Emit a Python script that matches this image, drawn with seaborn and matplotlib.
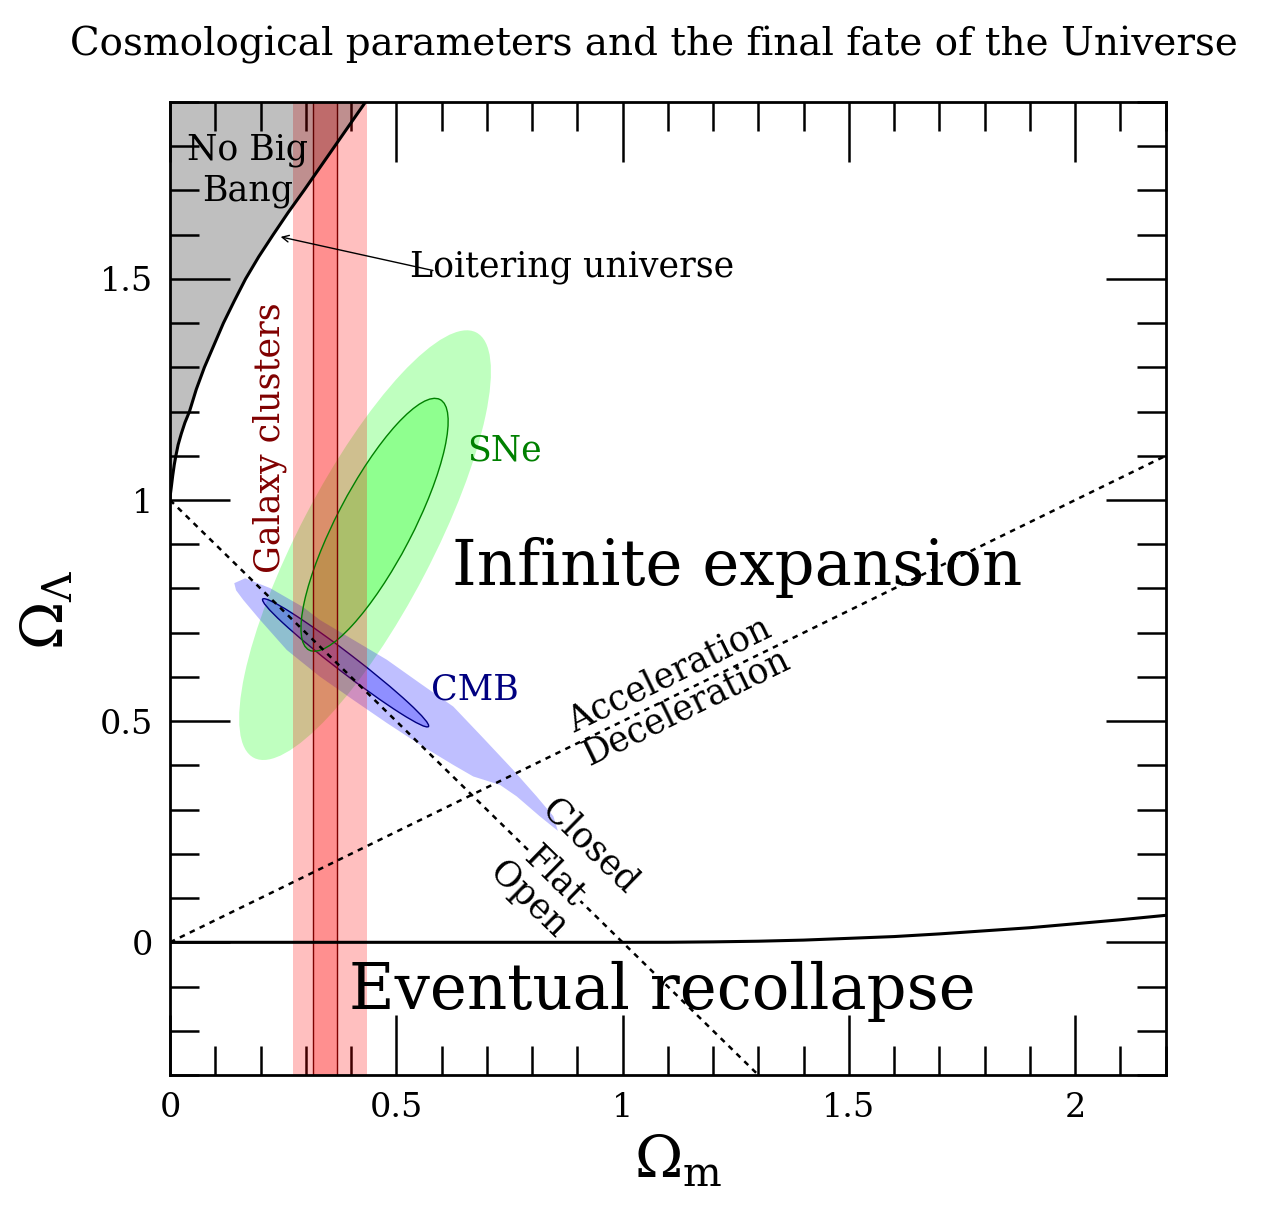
import matplotlib
matplotlib.use("Agg")
import matplotlib.pyplot as plt
from matplotlib.patches import Ellipse, Polygon
from matplotlib.ticker import MultipleLocator, FuncFormatter
import seaborn as sns

# boundary of the "no big bang" region (loitering curve)
nbb_ol = [1.0, 1.01, 1.03, 1.055, 1.08, 1.10, 1.125, 1.15, 1.175, 1.20, 1.25, 1.30,
          1.35, 1.40, 1.45, 1.50, 1.55, 1.60, 1.65, 1.70, 1.75, 1.80, 1.85, 1.90]
nbb_om = [0.0, 0.0005, 0.003, 0.006, 0.0095, 0.013, 0.018, 0.025, 0.033, 0.043, 0.058, 0.076,
          0.097, 0.118, 0.142, 0.167, 0.196, 0.228, 0.261, 0.296, 0.330, 0.364, 0.398, 0.432]

# boundary between infinite expansion and recollapse
rec_om = [0.0, 0.5, 1.0, 1.1, 1.2, 1.3, 1.4, 1.5, 1.6, 1.7, 1.8, 1.9, 2.0, 2.1, 2.2]
rec_ol = [0.0, 0.0, 0.0, 0.0001, 0.001, 0.0025, 0.005, 0.009, 0.013, 0.019, 0.026,
          0.033, 0.042, 0.051, 0.061]

# flat universe and acceleration/deceleration lines
flat_om = [0.0, 1.3]
flat_ol = [1.0, -0.3]
acc_om = [0.0, 2.2]
acc_ol = [0.0, 1.1]

# galaxy cluster constraints on Omega_m
clusters_outer = [0.272, 0.435]
clusters_inner = [0.315, 0.370]

# supernova ellipses: centre x, centre y, width, height, angle
sne_outer = [0.431, 0.898, 1.08, 0.295, 63.0]
sne_inner = [0.452, 0.944, 0.636, 0.168, 63.0]

# CMB: inner ellipse and outer contour
cmb_inner = [0.388, 0.632, 0.466, 0.042, -38.2]
cmb_om = [0.142, 0.166, 0.221, 0.294, 0.331, 0.405, 0.479, 0.552, 0.626, 0.692, 0.758,
          0.810, 0.847, 0.857, 0.817, 0.766, 0.729, 0.670, 0.626, 0.552, 0.479, 0.405,
          0.331, 0.258, 0.199, 0.162, 0.146]
cmb_ol = [0.812, 0.823, 0.801, 0.758, 0.729, 0.684, 0.639, 0.586, 0.533, 0.462, 0.390,
          0.330, 0.285, 0.252, 0.285, 0.330, 0.356, 0.375, 0.401, 0.447, 0.496, 0.548,
          0.601, 0.661, 0.729, 0.774, 0.796]

sns.set_theme(style="ticks")
plt.rcParams["font.family"] = ["DejaVu Serif"]
plt.rcParams["mathtext.fontset"] = "dejavuserif"
for k in ("text.color", "axes.labelcolor", "xtick.color", "ytick.color", "axes.edgecolor"):
    plt.rcParams[k] = "black"

fig, ax = plt.subplots(figsize=(12.8, 12.14), dpi=100)
fig.subplots_adjust(left=0.1328, right=0.9107, bottom=0.1145, top=0.916)

# confidence regions
for e in (sne_outer, sne_inner):
    ax.add_patch(Ellipse((e[0], e[1]), e[2], e[3], angle=e[4],
                         facecolor=(0, 1, 0, 0.25), edgecolor="none", zorder=2))
ax.add_patch(Ellipse((sne_inner[0], sne_inner[1]), sne_inner[2], sne_inner[3],
                     angle=sne_inner[4], facecolor="none", edgecolor="#008000", lw=1.0, zorder=4))

ax.add_patch(Polygon(list(zip(cmb_om, cmb_ol)), closed=True,
                     facecolor=(0, 0, 1, 0.25), edgecolor="none", zorder=2))
ax.add_patch(Ellipse((cmb_inner[0], cmb_inner[1]), cmb_inner[2], cmb_inner[3],
                     angle=cmb_inner[4], facecolor=(0, 0, 1, 0.25), edgecolor="#000080",
                     lw=1.0, zorder=2))

ax.axvspan(clusters_outer[0], clusters_outer[1], color="red", alpha=0.25, lw=0, zorder=3)
ax.axvspan(clusters_inner[0], clusters_inner[1], color="red", alpha=0.25, lw=0, zorder=3)
for xv in clusters_inner:
    ax.axvline(xv, color="#800000", lw=1.0, zorder=4)

# no big bang region, darkening whatever lies under it
ax.fill_betweenx(nbb_ol, 0, nbb_om, color="black", alpha=0.25, lw=0, zorder=4.5)

# curves
sns.lineplot(x=nbb_om, y=nbb_ol, sort=False, estimator=None, color="black", lw=2.2, ax=ax, zorder=5)
sns.lineplot(x=rec_om, y=rec_ol, sort=False, estimator=None, color="black", lw=2.2, ax=ax, zorder=5)
sns.lineplot(x=flat_om, y=flat_ol, sort=False, estimator=None, color="black", lw=1.8,
             linestyle=(0, (2.2, 2.2)), ax=ax, zorder=5)
sns.lineplot(x=acc_om, y=acc_ol, sort=False, estimator=None, color="black", lw=1.8,
             linestyle=(0, (2.2, 2.2)), ax=ax, zorder=5)

ax.set_xlim(0, 2.2)
ax.set_ylim(-0.3, 1.9)

# labels
fs = 25
ax.text(0.172, 1.745, "No Big\nBang", ha="center", va="center", fontsize=fs, linespacing=1.25, zorder=6)
ax.annotate("", xy=(0.2445, 1.595), xytext=(0.581, 1.519),
            arrowprops=dict(arrowstyle="->", color="black", lw=1.0, shrinkA=0, shrinkB=0), zorder=6)
ax.text(0.530, 1.526, "Loitering universe", ha="left", va="center", fontsize=fs, zorder=6)
ax.text(0.221, 1.142, "Galaxy clusters", ha="center", va="center", rotation=90,
        color="#800000", fontsize=fs, zorder=6)
ax.text(0.740, 1.112, "SNe", ha="center", va="center", color="#008000", fontsize=fs, zorder=6)
ax.text(0.674, 0.571, "CMB", ha="center", va="center", color="#000080", fontsize=fs, zorder=6)
ax.text(1.252, 0.848, "Infinite expansion", ha="center", va="center", fontsize=45, zorder=6)
ax.text(1.087, -0.111, "Eventual recollapse", ha="center", va="center", fontsize=45, zorder=6)
ax.text(1.104, 0.605, "Acceleration", ha="center", va="center", rotation=26, fontsize=fs, zorder=6)
ax.text(1.141, 0.533, "Deceleration", ha="center", va="center", rotation=26, fontsize=fs, zorder=6)
ax.text(0.928, 0.217, "Closed", ha="center", va="center", rotation=-44.4, fontsize=fs, zorder=6)
ax.text(0.850, 0.149, "Flat", ha="center", va="center", rotation=-44.4, fontsize=fs, zorder=6,
        bbox=dict(facecolor="white", edgecolor="none", pad=0.5))
ax.text(0.791, 0.096, "Open", ha="center", va="center", rotation=-44.4, fontsize=fs, zorder=6)

# axes and ticks
ax.xaxis.set_major_locator(MultipleLocator(0.5))
ax.xaxis.set_minor_locator(MultipleLocator(0.1))
ax.yaxis.set_major_locator(MultipleLocator(0.5))
ax.yaxis.set_minor_locator(MultipleLocator(0.1))
ax.xaxis.set_major_formatter(FuncFormatter(lambda v, p: f"{v:g}"))
ax.yaxis.set_major_formatter(FuncFormatter(lambda v, p: f"{v:g}"))
ax.tick_params(which="both", direction="in", top=True, right=True, width=1.8, color="black")
ax.tick_params(which="major", length=43, labelsize=24, pad=12)
ax.tick_params(which="minor", length=21)
for s in ax.spines.values():
    s.set_linewidth(2.0)
    s.set_zorder(7)

ax.set_xlabel(r"$\Omega_{\rm m}$", fontsize=42)
ax.set_ylabel(r"$\Omega_\Lambda$", fontsize=42)
ax.xaxis.set_label_coords(0.51, -0.06)
ax.yaxis.set_label_coords(-0.095, 0.478)

fig.text(0.5105, 0.963, "Cosmological parameters and the final fate of the Universe",
         ha="center", va="center", fontsize=28)

fig.savefig("out.png", dpi=100)
